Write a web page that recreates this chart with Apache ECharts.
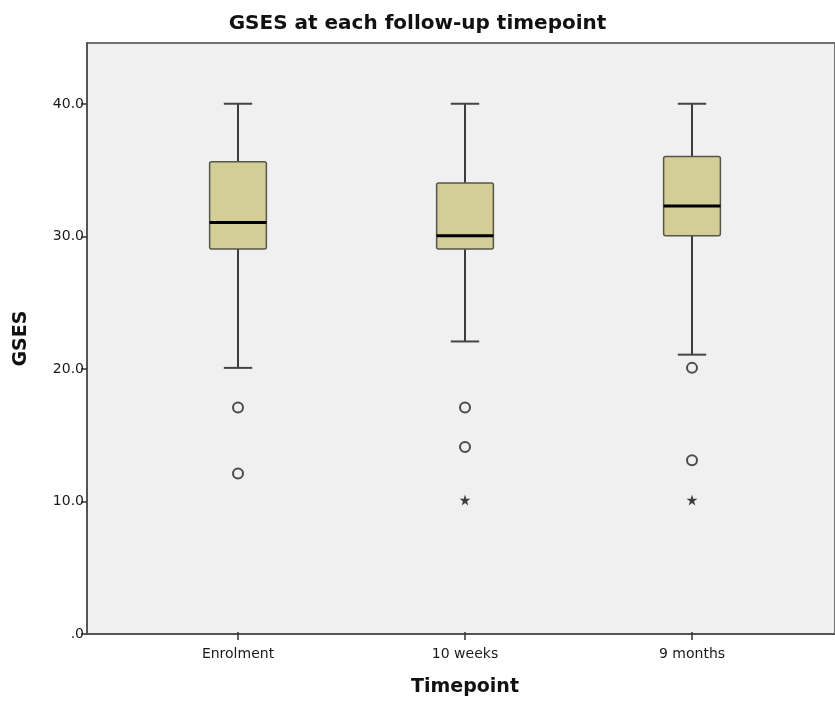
<!DOCTYPE html>
<html>
<head>
    <meta charset="utf-8" />
    <title>GSES at each follow-up timepoint</title>
    <script src="https://cdn.jsdelivr.net/npm/echarts@6/dist/echarts.min.js" type="text/javascript"></script>
    <style>
        html, body {
            width: 100%;
            height: 100%;
            margin: 0px;
            padding: 0px;
            background: #fff;
        }
        #main {
            width: 835px;
            height: 702px;
        }
    </style>
</head>
<body>
    <div id="main"></div>
<script type="text/javascript">
    // boxplot values
    var categories = ['Enrolment', '10 weeks', '9 months'];
    var whiskerLow = [20, 22, 21];
    var q1 = [29, 29, 30];
    var median = [31, 30, 32.25];
    var q3 = [35.6, 34, 36];
    var whiskerHigh = [40, 40, 40];
    // outliers: [category index, value]
    var outliers = [[0, 17], [0, 12], [1, 17], [1, 14], [2, 20], [2, 13]];
    var extremes = [[1, 10], [2, 10]];
    var yTicks = [0, 10, 20, 30, 40];

    var font = 'DejaVu Sans';
    var yMax = 44.6;

    var boxData = categories.map(function (c, i) {
        return [i, whiskerLow[i], q1[i], median[i], q3[i], whiskerHigh[i]];
    });

    function renderBox(params, api) {
        var x = api.value(0);
        var lo = api.coord([x, api.value(1)]);
        var p1 = api.coord([x, api.value(2)]);
        var md = api.coord([x, api.value(3)]);
        var p3 = api.coord([x, api.value(4)]);
        var hi = api.coord([x, api.value(5)]);
        var bw = api.size([1, 0])[0] * 0.25;
        var cx = lo[0];
        var capW = bw / 2;
        return {
            type: 'group',
            children: [
                { type: 'line', shape: { x1: cx, y1: hi[1], x2: cx, y2: p3[1] }, style: { stroke: '#000', lineWidth: 1.5 } },
                { type: 'line', shape: { x1: cx, y1: p1[1], x2: cx, y2: lo[1] }, style: { stroke: '#000', lineWidth: 1.5 } },
                { type: 'line', shape: { x1: cx - capW / 2, y1: hi[1], x2: cx + capW / 2, y2: hi[1] }, style: { stroke: '#444', lineWidth: 2 } },
                { type: 'line', shape: { x1: cx - capW / 2, y1: lo[1], x2: cx + capW / 2, y2: lo[1] }, style: { stroke: '#444', lineWidth: 2 } },
                {
                    type: 'rect',
                    shape: { x: cx - bw / 2, y: p3[1], width: bw, height: p1[1] - p3[1], r: 2 },
                    style: { fill: '#d3ce97', stroke: '#55554a', lineWidth: 1.5 }
                },
                { type: 'line', shape: { x1: cx - bw / 2, y1: md[1], x2: cx + bw / 2, y2: md[1] }, style: { stroke: '#000', lineWidth: 3 } }
            ]
        };
    }

    var myChart = echarts.init(document.getElementById('main'));
    myChart.setOption({
        animation: false,
        backgroundColor: '#fff',
        title: {
            text: 'GSES at each follow-up timepoint',
            left: 'center',
            top: 9,
            textStyle: { fontFamily: font, fontWeight: 'bold', fontSize: 20, color: '#111' }
        },
        grid: [
            // frame + grey panel
            { left: 87, right: -10, top: 43, bottom: 68, show: true, backgroundColor: '#f0f0f0', borderColor: '#707070', borderWidth: 2 },
            // box positions
            { left: 124.5, right: 29.5, top: 43, bottom: 68 }
        ],
        xAxis: [
            {
                gridIndex: 0, type: 'value', min: 0, max: 1,
                axisLine: { show: true, lineStyle: { color: '#555', width: 2 } },
                axisTick: { show: false }, axisLabel: { show: false }, splitLine: { show: false }
            },
            {
                gridIndex: 1, type: 'category', data: categories,
                axisLine: { show: false },
                axisTick: { show: true, alignWithLabel: true, length: 8, lineStyle: { color: '#333', width: 1.5 } },
                axisLabel: { fontFamily: font, fontSize: 14, color: '#1a1a1a', margin: 15 },
                name: 'Timepoint', nameLocation: 'middle', nameGap: 46,
                nameTextStyle: { fontFamily: font, fontWeight: 'bold', fontSize: 19, color: '#111' }
            }
        ],
        yAxis: [
            {
                gridIndex: 0, type: 'value', min: 0, max: yMax, interval: 10,
                axisLine: { show: true, lineStyle: { color: '#555', width: 2 } },
                axisTick: { show: true, length: 6, lineStyle: { color: '#333', width: 1.5 } },
                axisLabel: {
                    fontFamily: font, fontSize: 14, color: '#1a1a1a', margin: 3, showMaxLabel: false,
                    formatter: function (v) {
                        if (yTicks.indexOf(v) < 0) return '';
                        return v === 0 ? '.0' : v.toFixed(1);
                    }
                },
                splitLine: { show: false },
                name: 'GSES', nameLocation: 'middle', nameGap: 56, nameRotate: 90,
                nameTextStyle: { fontFamily: font, fontWeight: 'bold', fontSize: 19, color: '#111' }
            },
            { gridIndex: 1, type: 'value', min: 0, max: yMax, show: false }
        ],
        series: [
            {
                type: 'custom',
                xAxisIndex: 1, yAxisIndex: 1,
                renderItem: renderBox,
                data: boxData,
                silent: true
            },
            {
                type: 'scatter',
                xAxisIndex: 1, yAxisIndex: 1,
                data: outliers,
                symbol: 'circle',
                symbolSize: 10,
                itemStyle: { color: 'rgba(0,0,0,0)', borderColor: '#222', borderWidth: 2 },
                silent: true
            },
            {
                type: 'scatter',
                xAxisIndex: 1, yAxisIndex: 1,
                data: extremes,
                symbol: 'path://M50,0 L61,35 L98,35 L68,57 L79,91 L50,70 L21,91 L32,57 L2,35 L39,35 Z',
                symbolSize: 11,
                itemStyle: { color: '#111' },
                silent: true
            }
        ]
    });

    window.addEventListener('resize', function () {
        myChart.resize();
    });
</script>
</body>
</html>
